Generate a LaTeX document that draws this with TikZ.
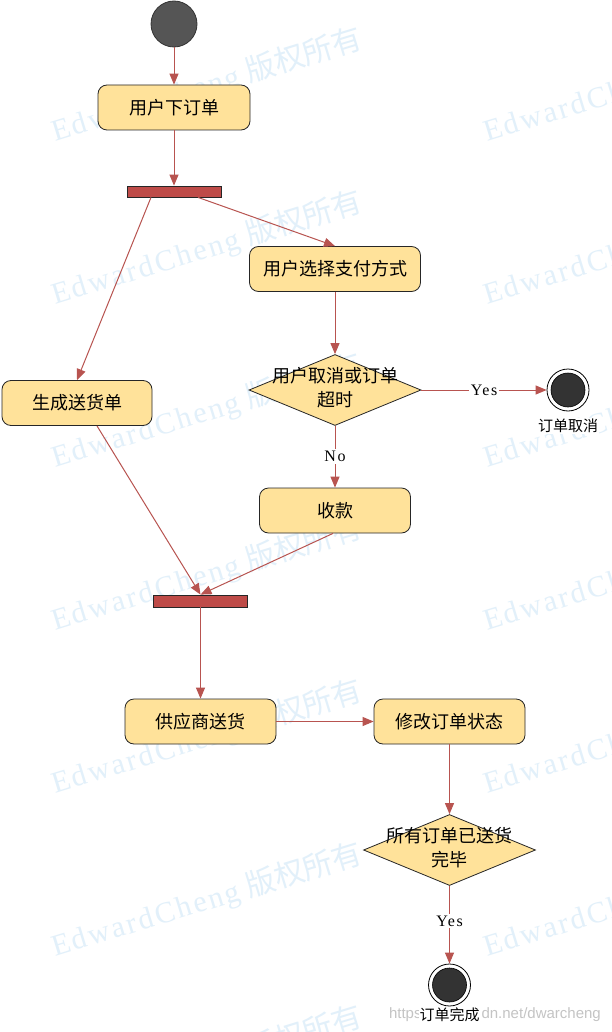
\documentclass[tikz,border=0pt]{standalone}
\usepackage{fontspec}
\setmainfont{Liberation Serif}
\newfontfamily\cjk{Noto Sans CJK SC}
\newfontfamily\wmfont[LetterSpace=8]{Liberation Serif}
\newfontfamily\lblfont[LetterSpace=10]{Liberation Serif}
\newfontfamily\urlfont{Liberation Sans}
\usetikzlibrary{shapes.geometric,arrows.meta}
\definecolor{nodefill}{HTML}{FFE29A}
\definecolor{edgec}{HTML}{B85450}
\definecolor{barfill}{HTML}{BE4B48}
\definecolor{startfill}{HTML}{555555}
\definecolor{endfill}{HTML}{333333}
\definecolor{wm}{HTML}{E2F0FA}
\definecolor{urlc}{HTML}{C4C4C4}
\tikzset{
  act/.style={draw=black!85, fill=nodefill, rounded corners=9pt, minimum height=45pt, inner sep=0pt, line width=0.8pt, font=\cjk\fontsize{18}{22}\selectfont},
  dec/.style={diamond, draw=black!85, fill=nodefill, minimum width=172pt, minimum height=71pt, inner sep=0pt, line width=0.8pt},
  dectext/.style={align=center, inner sep=0pt, font=\cjk\fontsize{18}{24}\selectfont},
  bar/.style={draw=black!85, fill=barfill, minimum width=94pt, minimum height=11pt, inner sep=0pt, line width=0.8pt},
  startnode/.style={circle, draw=black!80, fill=startfill, minimum size=46pt, inner sep=0pt, line width=0.8pt},
  endouter/.style={circle, draw=black, fill=white, minimum size=42pt, inner sep=0pt, line width=0.8pt},
  endinner/.style={circle, draw=black, fill=endfill, minimum size=34pt, inner sep=0pt, line width=0.6pt},
  endlabel/.style={font=\cjk\fontsize{15}{18}\selectfont, fill=white, inner sep=1pt},
  flow/.style={draw=edgec, line width=1pt, -{Triangle[length=11pt,width=9pt]}},
  lab/.style={fill=white, inner sep=2pt, text=black, font=\lblfont\fontsize{16}{18}\selectfont},
  wmark/.style={text=wm, rotate=17, anchor=base west, inner sep=0pt, font=\fontsize{30}{32}\selectfont},
}
\begin{document}
\begin{tikzpicture}[x=1pt,y=-1pt]
\useasboundingbox (0,0) rectangle (611,1032);
\fill[white] (0,0) rectangle (611,1032);
\begin{scope}
\clip (0,0) rectangle (611,1032);
\foreach \wy in {142,305,468,631,794,957,1120}{
  \foreach \wx in {55,487}{
    \node[wmark] at (\wx,\wy) {{\wmfont EdwardCheng} {\cjk 版权所有}};
  }
}
\end{scope}

% nodes
\node[startnode] (start) at (174,24) {};
\node[act, minimum width=152pt] (a1) at (174,107.5) {用户下订单};
\node[bar] (f1) at (174,191.5) {};
\node[act, minimum width=171pt] (a2) at (335,269) {用户选择支付方式};
\node[dec] (d1) at (335,390) {};
\node[dectext] (d1t) at (335,388) {用户取消或订单\\超时};
\node[endouter] (e1) at (568,390) {};
\node[endinner] (e1i) at (e1) {};
\node[endlabel] (e1l) at (568,426) {订单取消};
\node[act, minimum width=150pt] (a3) at (77,403) {生成送货单};
\node[act, minimum width=151pt] (a4) at (335,510.5) {收款};
\node[bar, minimum height=12pt] (f2) at (200.5,601) {};
\node[act, minimum width=151pt] (a5) at (200.5,721.5) {供应商送货};
\node[act, minimum width=151pt] (a6) at (449.5,721.5) {修改订单状态};
\node[dec] (d2) at (449.5,850) {};
\node[dectext] (d2t) at (449.5,848) {所有订单已送货\\完毕};
\node[endouter] (e2) at (449.5,985) {};
\node[endinner] (e2i) at (e2) {};
\node[anchor=east, text=urlc, inner sep=0pt, font=\urlfont\fontsize{15}{18}\selectfont] (url) at (601,1015) {https://blog.csdn.net/dwarcheng};
\node[endlabel] (e2l) at (449.5,1015) {订单完成};

% connectors
\draw[flow] (start) -- (a1);
\draw[flow] (a1) -- (f1);
\draw[flow] ([xshift=24pt]f1.south) -- (a2.north);
\draw[flow] ([xshift=-23pt]f1.south) -- (a3.north);
\draw[flow] (a2) -- (d1);
\draw[flow] (d1) -- node[lab] (yes1) {Yes} (e1);
\draw[flow] (d1) -- node[lab] (no1) {No} (a4);
\draw[flow] ([xshift=20pt]a3.south) -- (f2.north);
\draw[flow] ([xshift=-2pt]a4.south) -- (f2.north);
\draw[flow] (f2) -- (a5);
\draw[flow] (a5) -- (a6);
\draw[flow] (a6) -- (d2);
\draw[flow] (d2) -- node[lab, pos=0.45] (yes2) {Yes} (e2);
\end{tikzpicture}
\end{document}
